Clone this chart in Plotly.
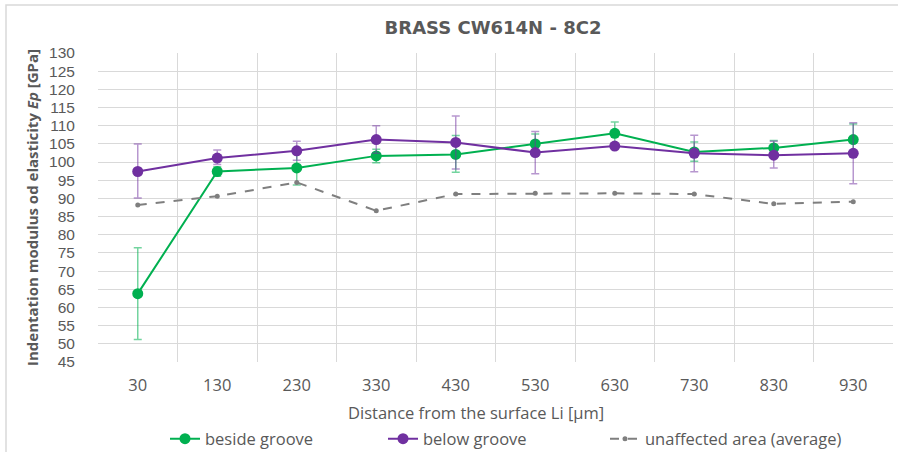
import plotly.graph_objects as go

categories = ["30", "130", "230", "330", "430", "530", "630", "730", "830", "930"]

beside = [63.8, 97.4, 98.4, 101.7, 102.1, 105.0, 107.9, 102.8, 103.9, 106.2]
beside_plus = [12.6, 1.3, 4.5, 1.8, 5.2, 2.7, 3.1, 2.7, 2.0, 4.3]
beside_minus = [12.6, 1.3, 4.7, 1.9, 4.9, 2.7, 3.1, 2.6, 2.0, 4.3]

below = [97.4, 101.1, 103.1, 106.2, 105.4, 102.6, 104.4, 102.4, 101.9, 102.4]
below_plus = [7.6, 2.2, 2.6, 3.8, 7.3, 5.8, 0.6, 5.0, 3.8, 8.4]
below_minus = [7.3, 1.8, 2.6, 3.8, 7.3, 5.8, 0.6, 5.1, 3.5, 8.4]

unaffected = [88.2, 90.6, 94.4, 86.6, 91.2, 91.4, 91.4, 91.2, 88.5, 89.1]

y_ticks = list(range(45, 131, 5))

xs = list(range(len(categories)))
gray = "#595959"
FONT = "Open Sans"

fig = go.Figure()

fig.add_trace(go.Scatter(
    x=xs, y=beside, name="beside groove", mode="lines+markers", legend="legend",
    line=dict(color="#00b050", width=2),
    marker=dict(color="#00b050", size=11),
    error_y=dict(type="data", symmetric=False, array=beside_plus, arrayminus=beside_minus,
                 color="rgba(0,176,80,0.55)", thickness=1.5, width=4),
))
fig.add_trace(go.Scatter(
    x=xs, y=below, name="below groove", mode="lines+markers", legend="legend2",
    line=dict(color="#7030a0", width=2),
    marker=dict(color="#7030a0", size=11),
    error_y=dict(type="data", symmetric=False, array=below_plus, arrayminus=below_minus,
                 color="rgba(112,48,160,0.5)", thickness=1.5, width=4),
))
fig.add_trace(go.Scatter(
    x=xs, y=unaffected, name="unaffected area (average)", mode="lines+markers", legend="legend3",
    line=dict(color="#7f7f7f", width=2, dash="dash"),
    marker=dict(color="#7f7f7f", size=5),
))

grid = "#d9d9d9"


def leg(px):
    return dict(orientation="h", xref="container", x=px / 898, xanchor="left",
                yref="container", y=1 - 439 / 452, yanchor="middle",
                font=dict(size=16.5, color=gray, family=FONT), bgcolor="rgba(0,0,0,0)")


fig.update_layout(
    width=898, height=452,
    margin=dict(l=98, r=5, t=53, b=90, autoexpand=False),
    paper_bgcolor="white", plot_bgcolor="white",
    font=dict(family=FONT, color=gray),
    title=dict(text="<b>BRASS CW614N - 8C2</b>", x=493/898, xref="container", xanchor="center",
               y=1-28/452, yref="container", yanchor="middle",
               font=dict(size=18, color=gray, family="DejaVu Sans")),
    xaxis=dict(range=[-0.5, len(categories) - 0.5], tickvals=xs, ticktext=categories,
               showgrid=False, zeroline=False, showline=False,
               ticks="outside", ticklen=8, tickcolor="rgba(0,0,0,0)",
               tickfont=dict(size=16.5, color=gray, family=FONT),
               minor=dict(tickvals=[i - 0.5 for i in range(len(categories) + 1)],
                          showgrid=True, gridcolor=grid, gridwidth=1, ticks="")),
    yaxis=dict(range=[45, 130], tickvals=y_ticks, showgrid=True, gridcolor=grid, gridwidth=1,
               zeroline=False, showline=False,
               ticks="outside", ticklen=19, tickcolor="rgba(0,0,0,0)",
               tickfont=dict(size=15.5, color=gray, family="Liberation Sans"),
               title=dict(text="<b>Indentation modulus od elasticity <i>Ep</i> [GPa]</b>",
                          standoff=6, font=dict(size=15, color=gray, family=FONT))),
    showlegend=True,
    legend=leg(165),
    legend2=leg(383),
    legend3=leg(605),
    annotations=[
        dict(text="Distance from the surface Li [µm]", xref="paper", yref="paper",
             x=(476-98)/795, y=(362-412)/309, xanchor="center", yanchor="middle",
             showarrow=False, font=dict(size=16.5, color=gray, family=FONT)),
    ],
    shapes=[
        dict(type="rect", xref="paper", yref="paper", x0=(6-98)/795, x1=(905-98)/795,
             y0=(362-460)/309, y1=(362-5)/309, line=dict(color="#d9d9d9", width=1.5),
             fillcolor="rgba(0,0,0,0)", layer="below"),
    ],
)

fig.write_html("out.html")
